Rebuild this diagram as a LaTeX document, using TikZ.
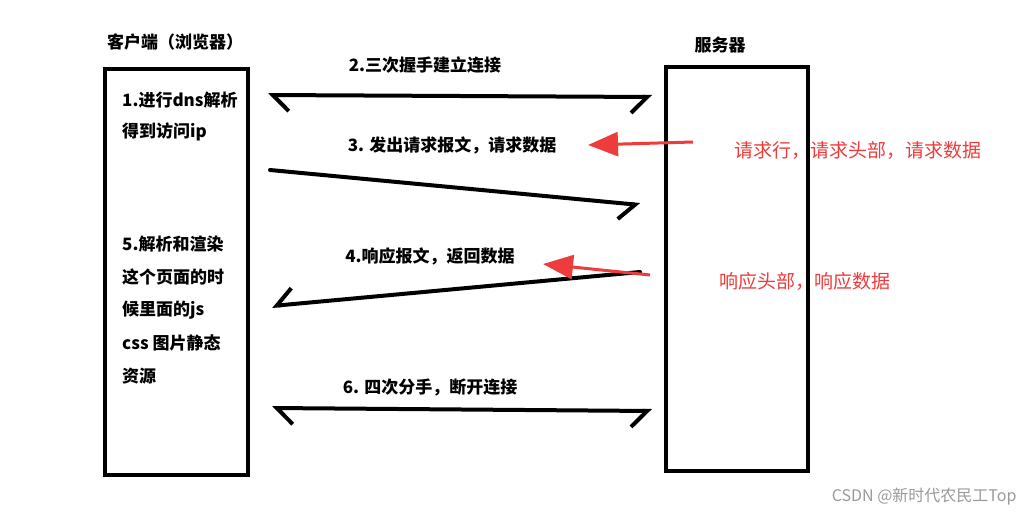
\documentclass[tikz,border=0pt]{standalone}
\usepackage{fontspec}
\setmainfont{Noto Sans CJK SC}
\usetikzlibrary{arrows.meta}
\definecolor{redarr}{HTML}{EE3B3B}
\tikzset{
 box/.style={draw,line width=4pt},
 blk/.style={line width=4pt,line cap=round},
 btip/.tip={Straight Barb[harpoon,swap,length=16pt,width=32pt,line width=4pt]},
 btips/.tip={Straight Barb[harpoon,length=16pt,width=32pt,line width=4pt]},
 rarr/.style={redarr,line width=3pt,-{Triangle[length=30pt,width=24pt]}},
 lbl/.style={font=\fontsize{17}{19}\selectfont\bfseries,inner sep=0pt},
 rlbl/.style={font=\fontsize{19}{21}\selectfont,text=redarr,inner sep=0pt},
 lft/.style={lbl,anchor=west}
}
\begin{document}
\begin{tikzpicture}[x=1pt,y=-1pt]
\useasboundingbox (0,0) rectangle (1035,519);
\draw[box] (105,69) rectangle (248,475);
\draw[box] (666,67) rectangle (808,471);
\node[lbl] (c) at (175,42) {客户端（浏览器）};
\node[lbl] (s) at (720,45) {服务器};
\node[lft] (l1) at (122,100) {1.进行dns解析};
\node[lft] (l2) at (122,132) {得到访问ip};
\node[lft] (l3) at (122,244) {5.解析和渲染};
\node[lft] (l4) at (122,277) {这个页面的时};
\node[lft] (l5) at (122,310) {候里面的js};
\node[lft] (l6) at (122,343) {css 图片静态};
\node[lft] (l7) at (122,376) {资源};
\node[lbl] (t2) at (425,65) {2.三次握手建立连接};
\node[lbl] (t3) at (452,145) {3. 发出请求报文，请求数据};
\node[lbl] (t4) at (430,256) {4.响应报文，返回数据};
\node[lbl] (t6) at (430,387) {6. 四次分手，断开连接};
\node[rlbl] (r1) at (858,150) {请求行，请求头部，请求数据};
\node[rlbl] (r2) at (805,281) {响应头部，响应数据};
\node[font=\fontsize{16}{17}\selectfont,text=gray!80,anchor=east] (w) at (1020,497) {CSDN @新时代农民工Top};
\coordinate (a1) at (268,95); \coordinate (b1) at (652,97);
\coordinate (a2) at (270,170); \coordinate (b2) at (640,205);
\coordinate (a3) at (640,272); \coordinate (b3) at (272,306);
\coordinate (a4) at (272,408); \coordinate (b4) at (652,411);
\draw[blk,btips-btip] (a1) -- (b1);
\draw[blk,-btip] (a2) -- (b2);
\draw[blk,-btip] (a3) -- (b3);
\draw[blk,btips-btip] (a4) -- (b4);
\coordinate (ra) at (693,142); \coordinate (rb) at (588,145);
\coordinate (rc) at (650,275); \coordinate (rd) at (543,264);
\draw[rarr] (ra) -- (rb);
\draw[rarr] (rc) -- (rd);
\end{tikzpicture}
\end{document}
